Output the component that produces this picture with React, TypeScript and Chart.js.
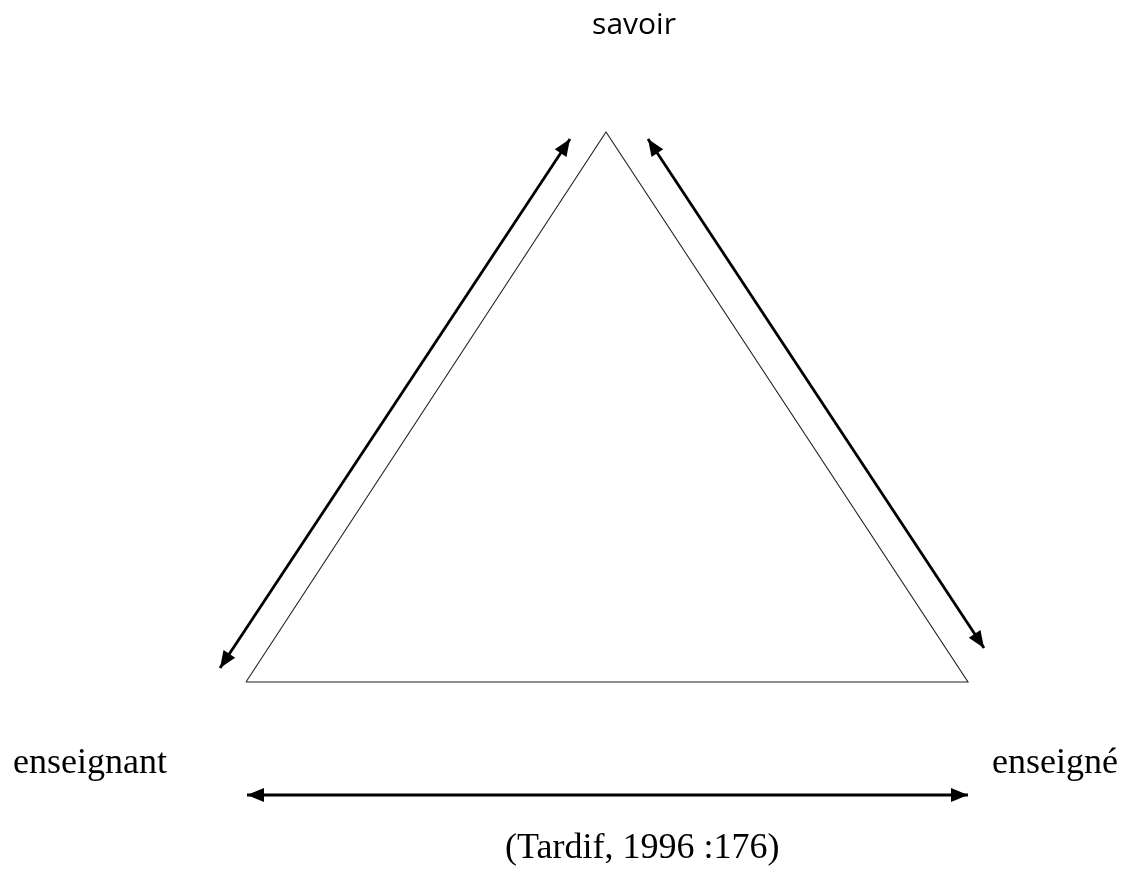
import React, { useEffect, useRef } from "react";
import { Chart, registerables } from "chart.js";

Chart.register(...registerables);

// Diagram geometry (in page pixel units used as data units)
const triangleX = [246, 606, 968, 246];
const triangleY = [682, 132, 682, 682];

const leftArrowX = [220, 570];
const leftArrowY = [668, 139];
const rightArrowX = [648, 984];
const rightArrowY = [139, 648];
const bottomArrowX = [247, 968];
const bottomArrowY = [795, 795];

const labelTexts = ["savoir", "enseignant", "enseigné", "(Tardif, 1996 :176)"];
const labelX = [634, 13, 992, 505];
const labelY = [34, 773, 773, 858];

const W = 1126;
const H = 871;

const toPoints = (xs: number[], ys: number[]) => xs.map((x, i) => ({ x, y: ys[i] }));

const arrowPlugin = {
  id: "arrowHeads",
  afterDatasetsDraw(chart: any) {
    const { ctx } = chart;
    const xs = chart.scales.x;
    const ys = chart.scales.y;
    chart.data.datasets.forEach((ds: any) => {
      if (!ds.doubleArrow) return;
      const p = ds.data.map((d: any) => ({ x: xs.getPixelForValue(d.x), y: ys.getPixelForValue(d.y) }));
      const ends = [
        [p[0], p[1]],
        [p[p.length - 1], p[p.length - 2]],
      ];
      ctx.save();
      ctx.fillStyle = "#000";
      ends.forEach(([tip, from]) => {
        const ang = Math.atan2(tip.y - from.y, tip.x - from.x);
        const len = 17;
        const half = 7;
        const bx = tip.x - len * Math.cos(ang);
        const by = tip.y - len * Math.sin(ang);
        ctx.beginPath();
        ctx.moveTo(tip.x, tip.y);
        ctx.lineTo(bx + half * Math.sin(ang), by - half * Math.cos(ang));
        ctx.lineTo(bx - half * Math.sin(ang), by + half * Math.cos(ang));
        ctx.closePath();
        ctx.fill();
      });
      ctx.restore();
    });
  },
};

const labelPlugin = {
  id: "diagramLabels",
  afterDraw(chart: any) {
    const { ctx } = chart;
    const xs = chart.scales.x;
    const ys = chart.scales.y;
    ctx.save();
    ctx.fillStyle = "#000";
    ctx.textBaseline = "alphabetic";
    labelTexts.forEach((t, i) => {
      if (i === 0) {
        ctx.font = "30px 'Open Sans'";
        ctx.textAlign = "center";
      } else {
        ctx.font = "36px 'Liberation Serif'";
        ctx.textAlign = "left";
      }
      ctx.fillText(t, xs.getPixelForValue(labelX[i]), ys.getPixelForValue(labelY[i]));
    });
    ctx.restore();
  },
};

export default function App() {
  const ref = useRef<HTMLCanvasElement | null>(null);
  useEffect(() => {
    if (!ref.current) return;
    const arrowStyle = {
      showLine: true,
      borderColor: "#000",
      borderWidth: 2.8,
      pointRadius: 0,
      doubleArrow: true,
    };
    const chart = new Chart(ref.current, {
      type: "scatter",
      data: {
        datasets: [
          {
            data: toPoints(triangleX, triangleY),
            showLine: true,
            borderColor: "#222",
            borderWidth: 1.1,
            pointRadius: 0,
            fill: false,
            tension: 0,
          } as any,
          { data: toPoints(leftArrowX, leftArrowY), ...arrowStyle } as any,
          { data: toPoints(rightArrowX, rightArrowY), ...arrowStyle } as any,
          { data: toPoints(bottomArrowX, bottomArrowY), ...arrowStyle } as any,
        ],
      },
      options: {
        animation: false,
        responsive: false,
        maintainAspectRatio: false,
        layout: { padding: 0 },
        plugins: { legend: { display: false }, tooltip: { enabled: false } },
        scales: {
          x: { type: "linear", min: 0, max: W, display: false },
          y: { type: "linear", min: 0, max: H, reverse: true, display: false },
        },
      },
      plugins: [arrowPlugin, labelPlugin],
    });
    return () => chart.destroy();
  }, []);
  return (
    <div style={{ position: "absolute", left: 0, top: 0, width: W, height: H, background: "#fff" }}>
      <canvas ref={ref} width={W} height={H} style={{ display: "block", width: W, height: H }} />
    </div>
  );
}
